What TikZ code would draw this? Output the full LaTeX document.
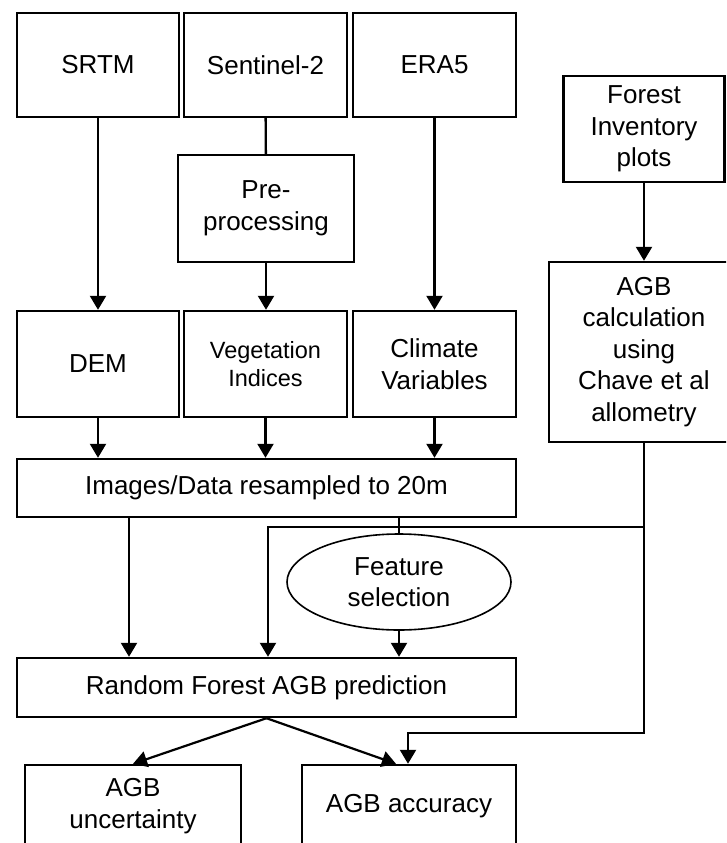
\documentclass[tikz,border=0pt]{standalone}
\usepackage{fontspec}
\setmainfont{Liberation Sans}
\usetikzlibrary{shapes.geometric, arrows.meta}

\begin{document}
\begin{tikzpicture}[x=1pt, y=-1pt, line width=2.4pt,
  box/.style={draw, rectangle, inner sep=0pt, align=center,
    font=\fontsize{26}{31.5}\selectfont},
  arr/.style={-{Triangle[width=16pt, length=14pt]}, line width=2.2pt}]
  \useasboundingbox (0,0) rectangle (726,843);
  \clip (0,0) rectangle (726,843);

  % Data sources
  \node[box, minimum width=162pt, minimum height=104pt] (srtm) at (98,65) {SRTM};
  \node[box, minimum width=163pt, minimum height=104pt] (sent) at (265.5,65) {Sentinel-2};
  \node[box, minimum width=163pt, minimum height=104pt] (era) at (434.5,65) {ERA5};
  \node[box, minimum width=161pt, minimum height=106pt] (fip) at (644,129) {Forest\\Inventory\\plots};
  \node[box, minimum width=176pt, minimum height=107pt] (pre) at (266,208.5) {Pre-\\processing};

  % Derived layers
  \node[box, minimum width=162pt, minimum height=106pt] (dem) at (98,364) {DEM};
  \node[box, minimum width=163pt, minimum height=106pt,
    font=\fontsize{23.5}{27.5}\selectfont] (veg) at (265.5,364) {Vegetation\\Indices};
  \node[box, minimum width=163pt, minimum height=106pt] (clim) at (434.5,364) {Climate\\Variables};
  \node[box, minimum width=190pt, minimum height=180pt] (agb) at (644,352)
    {AGB\\calculation\\using\\Chave et al\\allometry};

  % Modelling
  \node[box, minimum width=499pt, minimum height=58pt] (img) at (266.5,488) {Images/Data resampled to 20m};
  \node[box, ellipse, line width=1.6pt, minimum width=224pt, minimum height=96pt] (feat) at (399,582) {Feature\\selection};
  \node[box, minimum width=499pt, minimum height=59pt] (rf) at (266.5,687.5) {Random Forest AGB prediction};
  \node[box, minimum width=216pt, minimum height=82pt] (unc) at (133,806) {AGB\\uncertainty};
  \node[box, minimum width=214pt, minimum height=82pt] (acc) at (409,806) {AGB accuracy};

  % Connectors
  \draw[arr] (srtm) -- (dem);
  \draw (sent) -- (pre);
  \draw[arr] (pre.south) -- (pre.south |- veg.north);
  \draw[arr] (era) -- (clim);
  \draw[arr] (fip) -- (agb);
  \foreach \n in {dem, veg, clim}
    \draw[arr] (\n.south) -- (\n.south |- img.north);
  \coordinate (lft) at (129,0);
  \draw[arr] (img.south -| lft) -- (rf.north -| lft);
  \draw (img.south -| feat.north) -- (feat.north);
  \draw[arr] (feat.south) -- (feat.south |- rf.north);
  \coordinate (jn) at (268,527);
  \draw[arr] (agb.south) |- (jn) -- (jn |- rf.north);
  \coordinate (jt) at (408,733);
  \draw[arr] (agb.south) |- (jt) -- (jt |- acc.north);
  \draw[arr] (rf.south) -- (unc.north);
  \draw[arr] (rf.south) -- ([xshift=-13pt]acc.north);
\end{tikzpicture}
\end{document}
